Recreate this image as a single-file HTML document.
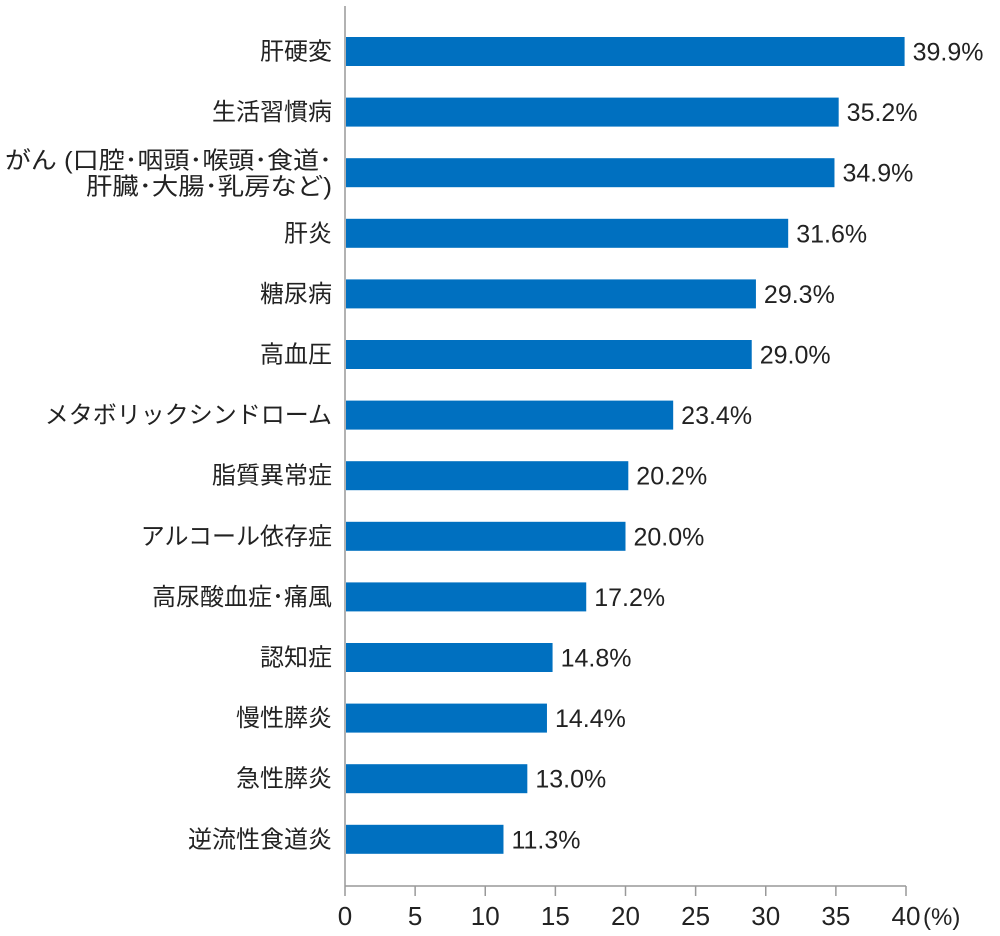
<!DOCTYPE html>
<html><head><meta charset="utf-8"><style>
body{margin:0;background:#fff;width:1000px;height:931px;overflow:hidden}
svg text{font-family:"Liberation Sans","Noto Sans CJK JP",sans-serif;fill:#222}
</style></head><body>
<svg width="1000" height="931" xmlns="http://www.w3.org/2000/svg">
<line x1="345" y1="6" x2="345" y2="886" stroke="#999" stroke-width="1.5"/>
<line x1="345" y1="886" x2="906" y2="886" stroke="#999" stroke-width="1.5"/>
</svg>
<script>
var ns="http://www.w3.org/2000/svg",svg=document.querySelector('svg');
function el(n,a,t){var e=document.createElementNS(ns,n);for(var k in a)e.setAttribute(k,a[k]);if(t!=null)e.textContent=t;svg.appendChild(e);return e}
var s=561/40;
for(var i=0;i<=8;i++){var x=345+i*5*s;el('line',{x1:x,y1:886,x2:x,y2:896,stroke:'#999','stroke-width':1.5});el('text',{x:x,y:925,'font-size':26,'text-anchor':'middle'},String(i*5));}
el('text',{x:923,y:925,'font-size':24},'(%)');
var d=[["肝硬変",39.9],["生活習慣病",35.2],["",34.9],["肝炎",31.6],["糖尿病",29.3],["高血圧",29.0],["メタボリックシンドローム",23.4],["脂質異常症",20.2],["アルコール依存症",20.0],["高尿酸血症･痛風",17.2],["認知症",14.8],["慢性膵炎",14.4],["急性膵炎",13.0],["逆流性食道炎",11.3]];
d.forEach(function(r,i){var top=37+i*60.6,w=r[1]*s,cy=top+14.5;
el('rect',{x:346,y:top,width:w-1,height:29,fill:'#0070c0'});
el('text',{x:345+w+8,y:cy+9,'font-size':25},r[1].toFixed(1)+'%');
if(r[0])el('text',{x:332,y:cy+8,'font-size':24,'text-anchor':'end'},r[0]);
else{el('text',{x:5,y:cy-4,'font-size':24,textLength:327,lengthAdjust:'spacingAndGlyphs'},'がん (口腔･咽頭･喉頭･食道･');el('text',{x:86,y:cy+22,'font-size':24,textLength:246,lengthAdjust:'spacingAndGlyphs'},'肝臓･大腸･乳房など)');}
});
</script>
</body></html>
